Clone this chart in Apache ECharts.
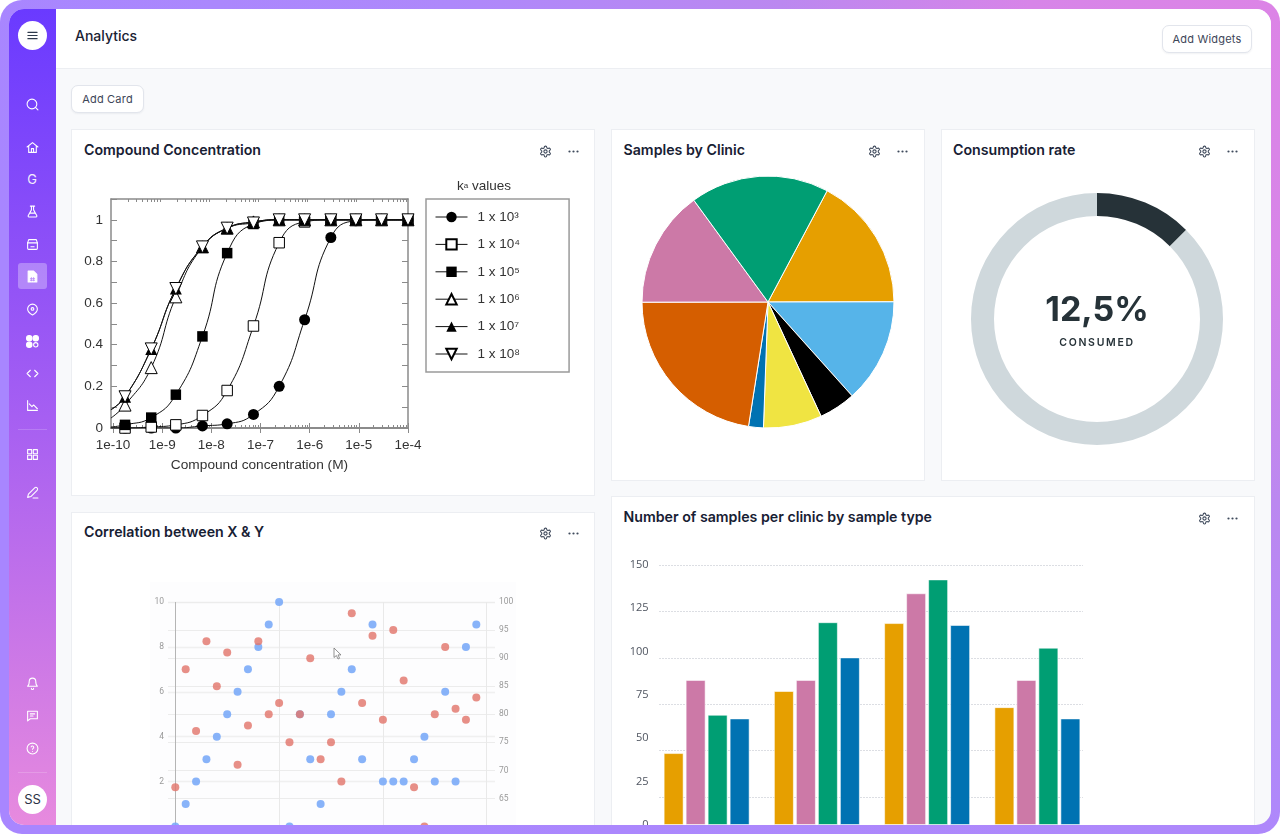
<!DOCTYPE html>
<html><head><meta charset="utf-8"><title>Analytics</title>
<script src="https://cdn.jsdelivr.net/npm/echarts@6/dist/echarts.min.js"></script>
<style>
html,body{margin:0;padding:0;width:1281px;height:834px;background:#fff;overflow:hidden;font-family:Inter,"Noto Sans",sans-serif}
#frame{position:absolute;left:0;top:0;width:1280px;height:834px;border-radius:22px;
background:radial-gradient(circle at 100% 0,#dc84e6 0,#d784e8 250px,#bb88f0 500px,#ae88fb 830px,#a886ff 1300px)}
#inner{position:absolute;left:9px;top:9px;width:1262px;height:816px;border-radius:15px;overflow:hidden;background:#f8f9fb}
#page{position:absolute;left:-9px;top:-9px;width:1281px;height:834px}
#side{position:absolute;left:9px;top:9px;width:47px;height:816px;background:linear-gradient(180deg,#6a3aff 0,#a65ff2 50%,#e78ade 100%)}
#head{position:absolute;left:56px;top:9px;width:1215px;height:59px;background:#fff;border-bottom:1px solid #eceef2}
.abs{position:absolute}
.h1{position:absolute;left:75px;top:27px;font-size:14px;font-weight:500;color:#1a2233;line-height:17px}
.btn{position:absolute;box-sizing:border-box;background:#fff;border:1px solid #e2e5ec;border-radius:7px;box-shadow:0 1px 2px rgba(20,30,60,.06);font-size:11px;color:#3d4658;text-align:center;letter-spacing:.2px}
.card{position:absolute;box-sizing:border-box;background:#fff;border:1px solid #eceef2}
.title{position:absolute;font-size:14.200px;font-weight:600;color:#172033;line-height:18px;white-space:nowrap}
.chart{position:absolute}
.ic{position:absolute;width:13px;height:13px;fill:none;stroke:#fff;stroke-width:2;stroke-linecap:round;stroke-linejoin:round}
.gear{position:absolute;width:13px;height:13px;fill:none;stroke:#3f4a5c;stroke-width:2;stroke-linejoin:round}
.dots{position:absolute;width:11px;height:3px;fill:#3f4a5c}
.round{position:absolute;left:18px;width:29px;height:29px;border-radius:50%;background:#fff;text-align:center;line-height:29px;color:#2b3245;font-size:13px}
.div{position:absolute;left:18px;width:29px;height:1px;background:rgba(255,255,255,.18)}
.soft{filter:blur(.45px)}
</style></head><body>
<div id="frame"><div id="inner"><div id="page">
<div id="side"></div>
<div class="round" style="top:21px"><svg width="11" height="11" viewBox="0 0 24 24" style="margin-top:9px" fill="none" stroke="#2f3a4c" stroke-width="2.6" stroke-linecap="round"><path d="M2 5h20M2 12h20M2 19h20"/></svg></div>
<svg class="ic" style="left:26px;top:98px" viewBox="0 0 24 24" stroke-width="2.6"><circle cx="11" cy="11" r="9"/><path d="M22 22l-4.5-4.5"/></svg>
<svg class="ic" style="left:26px;top:141px" viewBox="0 0 24 24"><path d="M2 11L12 3l10 8M5 9v12h14V9"/><path d="M10 21v-7h4v7"/></svg>
<div class="abs" style="left:20px;top:171px;width:24px;text-align:center;color:#fff;font-size:13px;line-height:16px;opacity:.9">G</div>
<svg class="ic" style="left:26px;top:205px" viewBox="0 0 24 24"><path d="M8 2h8M10 2v7L4 20a1.5 1.5 0 0 0 1.3 2h13.400a1.500 1.500 0 0 0 1.300-2L14 9V2M7 15h10"/></svg>
<svg class="ic" style="left:26px;top:238px" viewBox="0 0 24 24"><path d="M5 3h14l2 6v10a2 2 0 0 1-2 2H5a2 2 0 0 1-2-2V9z"/><path d="M3 9h18M9 16h6"/></svg>
<div class="abs" style="left:18px;top:263px;width:29px;height:26px;border-radius:3px;background:rgba(255,255,255,.3)"></div>
<svg class="ic" style="left:26px;top:270px" viewBox="0 0 24 24"><path d="M6 2h8l6 6v14H4V2z" fill="#fff"/><path d="M8 16h8M8 19h8M10 14v6M14 14v6" stroke="#b98bf8" stroke-width="1.500"/></svg>
<svg class="ic" style="left:26px;top:303px" viewBox="0 0 24 24"><path d="M12 2a9 9 0 0 1 9 9c0 6-9 11-9 11S3 17 3 11a9 9 0 0 1 9-9z"/><circle cx="12" cy="11" r="2.500"/></svg>
<svg class="ic" style="left:26px;top:335px" viewBox="0 0 24 24"><circle cx="6" cy="6" r="5" fill="#fff"/><circle cx="18" cy="6" r="5" fill="#fff"/><circle cx="6" cy="18" r="5" fill="#fff"/><circle cx="18" cy="18" r="4"/></svg>
<svg class="ic" style="left:26px;top:367px" viewBox="0 0 24 24"><path d="M8 6l-6 6 6 6M16 6l6 6-6 6"/></svg>
<svg class="ic" style="left:26px;top:399px" viewBox="0 0 24 24"><path d="M3 3v18h18"/><path d="M6 9l5 5 3-3 7 7"/></svg>
<div class="div" style="top:429px"></div>
<svg class="ic" style="left:26px;top:448px" viewBox="0 0 24 24"><rect x="3" y="3" width="7.500" height="7.500"/><rect x="13.500" y="3" width="7.500" height="7.500"/><rect x="3" y="13.500" width="7.500" height="7.500"/><rect x="13.500" y="13.500" width="7.500" height="7.500"/></svg>
<svg class="ic" style="left:26px;top:486px" viewBox="0 0 24 24"><path d="M3 21l1.500-6L16 3.500a3 3 0 0 1 4.500 4.500L9 19.500zM13 22h9"/></svg>
<svg class="ic" style="left:26px;top:677px" viewBox="0 0 24 24"><path d="M6 8a6 6 0 0 1 12 0c0 7 3 9 3 9H3s3-2 3-9M10 21a2 2 0 0 0 4 0"/></svg>
<svg class="ic" style="left:26px;top:709px" viewBox="0 0 24 24"><path d="M3 4h18v14H8l-5 4zM8 9h8M8 13h5"/></svg>
<svg class="ic" style="left:26px;top:742px" viewBox="0 0 24 24"><circle cx="12" cy="12" r="10"/><path d="M9.500 9a2.500 2.500 0 0 1 4.800 1c0 1.500-2.300 2-2.300 3.500M12 17.500h0"/></svg>
<div class="div" style="top:772px"></div>
<div class="round" style="top:784.500px">SS</div>

<div id="head"></div>
<div class="h1">Analytics</div>
<div class="btn" style="left:1162px;top:25px;width:90px;height:28px;line-height:26px">Add Widgets</div>
<div class="btn" style="left:71px;top:85px;width:73px;height:28px;line-height:26px">Add Card</div>

<div class="card" style="left:71px;top:129px;width:524px;height:367px"></div>
<div class="card" style="left:611px;top:129px;width:314px;height:352px"></div>
<div class="card" style="left:941px;top:129px;width:314px;height:352px"></div>
<div class="card" style="left:71px;top:512px;width:524px;height:330px"></div>
<div class="card" style="left:611px;top:496px;width:644px;height:345px"></div>

<div class="title" style="left:84px;top:141px">Compound Concentration</div>
<div class="title" style="left:623.500px;top:141px">Samples by Clinic</div>
<div class="title" style="left:953px;top:141px">Consumption rate</div>
<div class="title" style="left:84px;top:523px">Correlation between X &amp; Y</div>
<div class="title" style="left:623.500px;top:508px">Number of samples per clinic by sample type</div>

<div class="abs" style="left:150px;top:582px;width:366px;height:250px;background:#fdfdfe"></div>
<div id="c1" class="chart soft" style="left:72px;top:170px;width:522px;height:325px"></div>
<div id="c2" class="chart" style="left:612px;top:170px;width:312px;height:310px"></div>
<div id="c3" class="chart" style="left:942px;top:170px;width:312px;height:310px"></div>
<div id="c4" class="chart soft" style="left:72px;top:570px;width:522px;height:270px"></div>
<div id="c5" class="chart" style="left:612px;top:540px;width:642px;height:310px"></div>

<div class="abs" style="left:997px;top:286px;width:200px;text-align:center;font-size:34px;font-weight:700;color:#263238;line-height:46px">12,5%</div>
<div class="abs" style="left:997px;top:336px;width:200px;text-align:center;font-size:10.500px;font-weight:600;color:#263238;letter-spacing:1.700px;line-height:14px">CONSUMED</div>
<svg class="abs" style="left:333px;top:647px" width="10" height="13" viewBox="0 0 10 13"><path d="M1 1v9.500l2.400-2 1.600 3.500 1.600-.7-1.600-3.400h3z" fill="#fff" stroke="#777" stroke-width=".8"/></svg>
</div></div></div>

<script>
// ---- Compound concentration ----
const concentrations = [9.1e-11,1.76e-10,6e-10,1.9e-9,6.6e-9,2.1e-8,7.2e-8,2.4e-7,7.9e-7,2.7e-6,8.7e-6,2.9e-5,1e-4];
const ka1e3 = [0,0,0,0,0.01,0.02,0.065,0.2,0.52,0.915,0.995,1,1];
const ka1e4 = [0,0,0.005,0.015,0.06,0.18,0.49,0.89,0.99,1,1,1,1];
const ka1e5 = [0.005,0.015,0.05,0.16,0.44,0.84,0.98,1,1,1,1,1,1];
const ka1e6 = [0.048,0.11,0.29,0.63,0.87,0.96,0.99,1,1,1,1,1,1];
const ka1e7 = [0.088,0.15,0.38,0.67,0.87,0.96,0.99,1,1,1,1,1,1];
const ka1e8 = [0.088,0.15,0.38,0.67,0.87,0.96,0.985,1,1,1,1,1,1];
const kaNames = ['1 x 10³','1 x 10⁴','1 x 10⁵','1 x 10⁶','1 x 10⁷','1 x 10⁸'];
const concentrationMajor = [-10,-9,-8,-7,-6,-5,-4];
const minorMultipliers = [2,3,4,5,6,7,8,9];
// ---- Samples by clinic ----
const clinicColors = ['#E69F00','#56B4E9','#000000','#F0E442','#0072B2','#D55E00','#CC79A7','#009E73'];
const clinicShares = [17.2,13.4,4.7,7.5,1.9,22.5,15,17.8];
const clinicNames = ['Clinic A','Clinic B','Clinic C','Clinic D','Clinic E','Clinic F','Clinic G','Clinic H'];
// ---- Consumption ----
const consumed = 12.5;
const remaining = 87.5;
// ---- Scatter ----
const scatterX = [0,1,2,3,4,5,6,7,8,9,10,11,12,13,14,15,16,17,18,19,20,21,22,23,24,25,26,27,28,29];
const scatterLeft = [0,1,2,3,4,5,6,7,8,9,10,0,5,3,1,5,6,7,3,9,2,2,2,3,4,2,6,2,8,9];
const scatterRight = [67,88,77,93,85,91,71,78,93,80,82,75,80,90,72,75,68,98,82,94,79,95,86,67,60,80,92,81,79,83];
// ---- Bars ----
const barCategories = ['Clinic 1','Clinic 2','Clinic 3','Clinic 4'];
const barA = [41.500,77.300,116.500,68];
const barB = [83.700,83.700,133.700,83.700];
const barC = [63.600,117,141.700,102.300];
const barD = [61.500,96.700,115.400,61.500];
const barColors = ['#E69F00','#CC79A7','#009E73','#0072B2'];

const ink = '#333';
const frameGrey = '#8a8a8a';
const sans = '"Liberation Sans",Arial,sans-serif';
const lg = v => Math.log10(v);
const minorTicks = [];
concentrationMajor.slice(0,-1).forEach(e => minorMultipliers.forEach(m => minorTicks.push(e + lg(m))));

function concAxis(position, values, len, labels){
  return {type:'value',min:-10.04,max:-4,position,
    axisLine:{show:true,lineStyle:{color:frameGrey,width:1.500}},
    axisTick:{show:true,inside:true,length:len,customValues:values,lineStyle:{color:frameGrey,width:1}},
    axisLabel:labels?{show:true,customValues:concentrationMajor,color:ink,fontFamily:sans,fontSize:13.500,margin:10,formatter:v=>'1e'+v,hideOverlap:false,showMinLabel:true,showMaxLabel:true}:{show:false},
    splitLine:{show:false}};
}
function kaSeries(i, values, symbol, open){
  const size = symbol==='circle'?11:symbol==='rect'?10.500:12;
  return {name:kaNames[i],type:'line',smooth:.5,symbol,symbolSize:size,
    symbolRotate:symbol==='triangle'&&i===5?180:0,
    lineStyle:{color:'#111',width:1},
    itemStyle:{color:open?'#fff':'#000',borderColor:'#000',borderWidth:open?1:0,opacity:1},
    z:2+i,
    data:values.map((y,k)=>k===0?{value:[lg(concentrations[k]),y],symbol:'none'}:[lg(concentrations[k]),y])};
}
const c1 = {
  animation:false,
  title:{left:385,top:9,padding:0,text:'{a|k}{b|a}{a| values}',textStyle:{fontWeight:'normal',rich:{a:{fontFamily:sans,fontSize:13.500,color:ink,fontWeight:'normal'},b:{fontFamily:sans,fontSize:8,color:ink,fontWeight:'normal'}}}},
  grid:{left:39,top:29,width:297,height:229,containLabel:false},
  legend:{orient:'vertical',left:354,top:29,itemWidth:32,itemHeight:13,itemGap:13.400,padding:[11,49,11,9],lineStyle:{width:1},
    borderColor:'#9a9a9a',borderWidth:1.500,textStyle:{color:ink,fontFamily:sans,fontSize:13.500,padding:[0,0,0,5]},data:kaNames},
  xAxis:[Object.assign(concAxis('bottom',concentrationMajor,5,true),{name:'Compound concentration (M)',nameLocation:'middle',nameGap:30,nameTextStyle:{color:ink,fontFamily:sans,fontSize:13.700}}),
         concAxis('top',concentrationMajor,5,false),concAxis('bottom',minorTicks,3,false),concAxis('top',minorTicks,3,false)],
  yAxis:['left','right'].map((position,i)=>({type:'value',min:0,max:1.100,interval:.1,position,
    axisLine:{show:true,lineStyle:{color:frameGrey,width:1.500}},
    axisTick:{show:true,inside:true,length:6,lineStyle:{color:frameGrey}},
    axisLabel:i===0?{show:true,color:ink,fontFamily:sans,fontSize:13.500,margin:8,customValues:[0,.2,.4,.6,.8,1]}:{show:false},
    splitLine:{show:false}})),
  series:[kaSeries(0,ka1e3,'circle',false),kaSeries(1,ka1e4,'rect',true),kaSeries(2,ka1e5,'rect',false),
          kaSeries(3,ka1e6,'triangle',true),kaSeries(4,ka1e7,'triangle',false),kaSeries(5,ka1e8,'triangle',true)]
};
const c2 = {animation:false,series:[{type:'pie',center:[156,132],radius:[0,126],startAngle:62,label:{show:false},labelLine:{show:false},silent:true,
  itemStyle:{borderColor:'#fff',borderWidth:1},
  data:clinicShares.map((value,i)=>({value,name:clinicNames[i],itemStyle:{color:clinicColors[i]}}))}]};
const c3 = {animation:false,series:[{type:'pie',center:[155,149],radius:[103,126],startAngle:90,label:{show:false},labelLine:{show:false},silent:true,
  data:[{value:consumed,name:'Consumed',itemStyle:{color:'#263238'}},{value:remaining,name:'Remaining',itemStyle:{color:'#CFD8DC'}}]}]};
const hideAxis = {axisLine:{show:false},axisTick:{show:false},axisLabel:{show:false},splitLine:{show:false}};
const scatterLabel = {color:'#9a9a9a',fontFamily:'Roboto',fontSize:8.500,margin:4,showMinLabel:false,padding:[3,0,0,0]};
const c4 = {animation:false,
  grid:[{left:96,top:32,width:327,height:224.500},{left:103.300,top:32,width:311.400,height:224.500}],
  xAxis:[Object.assign({type:'value',gridIndex:0,min:0,max:1},hideAxis),
    {type:'value',gridIndex:1,min:0,max:30,interval:10,axisLine:{show:false},axisTick:{show:false},axisLabel:{show:false},
     splitLine:{show:true,lineStyle:{color:['#b5b5b5','#e9e9e9','#e9e9e9','#e9e9e9'],width:1}}}],
  yAxis:[{type:'value',gridIndex:0,min:0,max:10,interval:2,position:'left',axisLine:{show:false},axisTick:{show:false},axisLabel:scatterLabel,splitLine:{lineStyle:{color:'#f0f0f0',width:1.300}}},
    {type:'value',gridIndex:0,min:60,max:100,interval:5,position:'right',axisLine:{show:false},axisTick:{show:false},axisLabel:scatterLabel,splitLine:{lineStyle:{color:'#ececec',width:1.100}}},
    Object.assign({type:'value',gridIndex:1,min:0,max:10},hideAxis),
    Object.assign({type:'value',gridIndex:1,min:60,max:100,position:'right'},hideAxis)],
  series:[{type:'scatter',xAxisIndex:1,yAxisIndex:2,symbolSize:8,clip:false,itemStyle:{color:'#78a8f8',opacity:.88},data:scatterX.map((x,i)=>[x,scatterLeft[i]])},
    {type:'scatter',xAxisIndex:1,yAxisIndex:3,symbolSize:8,clip:false,itemStyle:{color:'#e2766c',opacity:.82},data:scatterX.map((x,i)=>[x,scatterRight[i]])}]};
const c5 = {animation:false,
  grid:[{left:39.500,top:25,width:441,height:260},{left:47,top:25,width:424,height:278.400}],
  xAxis:[Object.assign({type:'category',gridIndex:0,data:barCategories},hideAxis),Object.assign({type:'value',gridIndex:1,min:0,max:1},hideAxis)],
  yAxis:[{type:'value',gridIndex:0,min:0,max:150,interval:25,axisLine:{show:false},axisTick:{show:false},splitLine:{show:false},
     axisLabel:{color:'#4f5560',fontFamily:'"Open Sans"',fontSize:11,margin:3,padding:[4,0,0,0]}},
    {type:'value',gridIndex:1,min:0,max:150,interval:25,axisLine:{show:false},axisTick:{show:false},axisLabel:{show:false},
     splitLine:{lineStyle:{color:'#dcdee3',type:[2,1],width:1}}}],
  series:[barA,barB,barC,barD].map((data,i)=>({type:'bar',data,barWidth:20,barGap:'10%',xAxisIndex:0,yAxisIndex:0,
    itemStyle:{color:barColors[i],borderColor:'rgba(255,255,255,.55)',borderWidth:1}}))};
[['c1',c1],['c2',c2],['c3',c3],['c4',c4],['c5',c5]].forEach(([id,opt])=>echarts.init(document.getElementById(id)).setOption(opt));

// card toolbars
const gearPath = 'M12.220 2h-.44a2 2 0 0 0-2 2v.18a2 2 0 0 1-1 1.730l-.43.25a2 2 0 0 1-2 0l-.15-.08a2 2 0 0 0-2.730.73l-.22.38a2 2 0 0 0 .73 2.730l.15.1a2 2 0 0 1 1 1.720v.51a2 2 0 0 1-1 1.740l-.15.09a2 2 0 0 0-.73 2.730l.22.38a2 2 0 0 0 2.730.73l.15-.08a2 2 0 0 1 2 0l.43.25a2 2 0 0 1 1 1.730V20a2 2 0 0 0 2 2h.44a2 2 0 0 0 2-2v-.18a2 2 0 0 1 1-1.730l.43-.25a2 2 0 0 1 2 0l.15.08a2 2 0 0 0 2.730-.73l.22-.39a2 2 0 0 0-.73-2.730l-.15-.08a2 2 0 0 1-1-1.740v-.5a2 2 0 0 1 1-1.740l.15-.09a2 2 0 0 0 .73-2.730l-.22-.38a2 2 0 0 0-2.730-.73l-.15.08a2 2 0 0 1-2 0l-.43-.25a2 2 0 0 1-1-1.730V4a2 2 0 0 0-2-2z';
const page = document.getElementById('page');
[[538.500,144.500],[868,144.500],[1198,144.500],[538.500,527],[1198,512]].forEach(([x,y])=>{
  page.insertAdjacentHTML('beforeend',`<svg class="gear" style="left:${x}px;top:${y}px" viewBox="0 0 24 24"><path d="${gearPath}"/><circle cx="12" cy="12" r="3"/></svg>
  <svg class="dots" style="left:${x+29}px;top:${y+5}px" viewBox="0 0 11 3"><circle cx="1.500" cy="1.500" r="1.100"/><circle cx="5.500" cy="1.500" r="1.100"/><circle cx="9.500" cy="1.500" r="1.100"/></svg>`);
});
</script>
</body></html>
